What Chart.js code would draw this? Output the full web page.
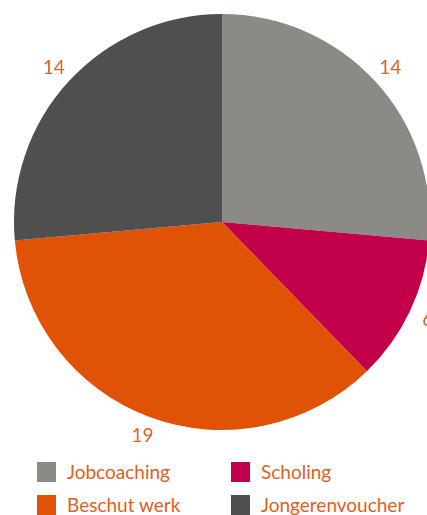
<!DOCTYPE html>
<html>
<head>
<meta charset="utf-8">
<script src="https://cdn.jsdelivr.net/npm/chart.js@4"></script>
<style>
    html, body { margin: 0; padding: 0; overflow: hidden; background: #fff; width: 427px; height: 515px; }
    #wrap { position: absolute; left: 0; top: 0; width: 444px; height: 444px; }
    #legend { position: absolute; left: 0; top: 0; font-family: Lato, sans-serif; font-size: 19px; color: #e0601e; }
    .item { position: absolute; white-space: nowrap; }
    .box { position: absolute; width: 19px; height: 20px; }
    .txt { position: absolute; top: 0; line-height: 20px; }
</style>
</head>
<body>
<div id="wrap"><canvas id="pie" width="444" height="444"></canvas></div>
<div id="legend"></div>
<script>
'use strict';

var labels = ['Jobcoaching', 'Scholing', 'Beschut werk', 'Jongerenvoucher'];
var values = [14, 6, 19, 14];
var colors = ['#8a8b85', '#c3004a', '#e05206', '#4f4f4f'];

// value labels outside the slices
var outsideLabels = {
    id: 'outsideLabels',
    afterDatasetsDraw: function (chart) {
        var ctx = chart.ctx;
        var meta = chart.getDatasetMeta(0);
        ctx.save();
        ctx.font = '19px Lato, sans-serif';
        ctx.fillStyle = '#e0601e';
        ctx.textAlign = 'center';
        ctx.textBaseline = 'middle';
        meta.data.forEach(function (arc, i) {
            var mid = (arc.startAngle + arc.endAngle) / 2;
            var r = arc.outerRadius + 20;
            ctx.fillText(String(values[i]), arc.x + Math.cos(mid) * r, arc.y + Math.sin(mid) * r);
        });
        ctx.restore();
    }
};

new Chart(document.getElementById('pie').getContext('2d'), {
    type: 'pie',
    data: {
        labels: labels,
        datasets: [{
            data: values,
            backgroundColor: colors,
            borderWidth: 0
        }]
    },
    options: {
        responsive: false,
        animation: false,
        layout: { padding: 14 },
        plugins: {
            legend: { display: false },
            tooltip: { enabled: false }
        }
    },
    plugins: [outsideLabels]
});

// legend, two columns
var legend = document.getElementById('legend');
var colX = [37, 231];
var rowY = [462, 495];
labels.forEach(function (name, i) {
    var x = colX[i % 2];
    var y = rowY[Math.floor(i / 2)];
    var item = document.createElement('div');
    item.className = 'item';
    item.style.left = x + 'px';
    item.style.top = y + 'px';
    item.innerHTML = '<div class="box" style="background:' + colors[i] + '"></div>' +
        '<div class="txt" style="left:30px">' + name + '</div>';
    legend.appendChild(item);
});
</script>
</body>
</html>
